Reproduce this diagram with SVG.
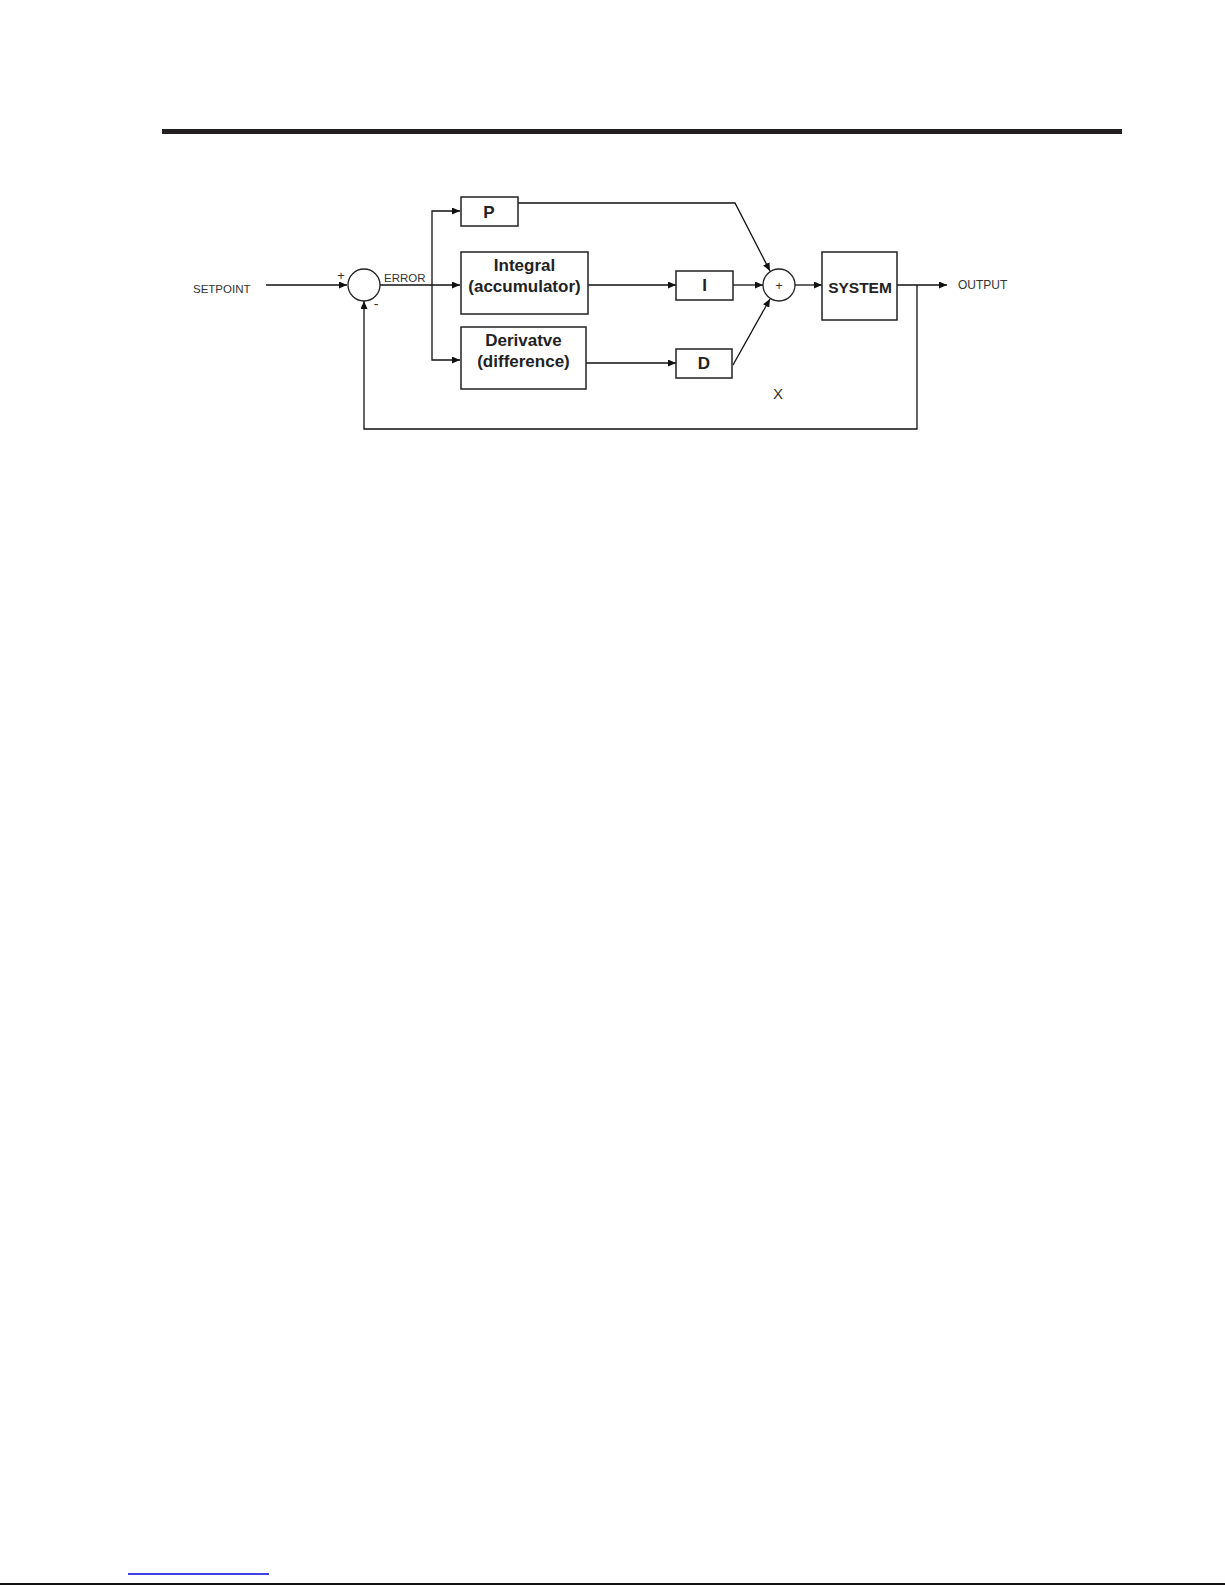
<svg xmlns="http://www.w3.org/2000/svg" width="1225" height="1585" viewBox="0 0 1225 1585">
<style>
.box{fill:#fff;stroke:#222;stroke-width:1.5}
.ln{fill:none;stroke:#111;stroke-width:1.3}
.lbl{font-family:"Liberation Sans",Arial,sans-serif;font-size:11.5px;fill:#333}
.bl{font-family:"Liberation Sans",Arial,sans-serif;font-size:17px;font-weight:bold;fill:#222;text-anchor:middle}
</style>
<defs>
<marker id="ah" markerUnits="userSpaceOnUse" markerWidth="9" markerHeight="7" refX="8" refY="3.5" orient="auto">
<path d="M0,0 L8,3.5 L0,7 Z" fill="#111"/>
</marker>
</defs>
<rect width="1225" height="1585" fill="#fff"/>
<rect x="162" y="129" width="960" height="5" fill="#231f20"/>
<line x1="128" y1="1574" x2="269" y2="1574" stroke="#0000e0" stroke-width="1.5"/>
<line x1="0" y1="1584" x2="1225" y2="1584" stroke="#111" stroke-width="2"/>

<g id="connectors">
<path class="ln" d="M266,285 H347" marker-end="url(#ah)"/>
<path class="ln" d="M380,285 H460" marker-end="url(#ah)"/>
<path class="ln" d="M432,285 V211 H460" marker-end="url(#ah)"/>
<path class="ln" d="M432,285 V360 H460" marker-end="url(#ah)"/>
<path class="ln" d="M518,203 H735 L770,271" marker-end="url(#ah)"/>
<path class="ln" d="M588,285 H676" marker-end="url(#ah)"/>
<path class="ln" d="M733,285 H763" marker-end="url(#ah)"/>
<path class="ln" d="M586,363 H676" marker-end="url(#ah)"/>
<path class="ln" d="M733,365 L770,299" marker-end="url(#ah)"/>
<path class="ln" d="M795,285 H822" marker-end="url(#ah)"/>
<path class="ln" d="M897,285 H947" marker-end="url(#ah)"/>
<path class="ln" d="M917,285 V429 H364 V301" marker-end="url(#ah)"/>
</g>

<g id="setpoint"><text class="lbl" x="193" y="293">SETPOINT</text></g>
<g id="error-sum">
<circle cx="364" cy="285" r="16" fill="#fff" stroke="#222" stroke-width="1.3"/>
<text class="lbl" x="341" y="280" text-anchor="middle" style="font-size:13px">+</text>
<text class="lbl" x="376" y="309" text-anchor="middle" style="font-size:14px">-</text>
</g>
<g id="error-label"><text class="lbl" x="384" y="282">ERROR</text></g>

<g id="p-box"><rect class="box" x="461" y="197" width="57" height="29"/><text class="bl" x="489" y="217.5">P</text></g>
<g id="integral-box"><rect class="box" x="461" y="252" width="127" height="62"/>
<text class="bl" x="524.5" y="271">Integral</text><text class="bl" x="524.5" y="292">(accumulator)</text></g>
<g id="derivative-box"><rect class="box" x="461" y="327" width="125" height="62"/>
<text class="bl" x="523.5" y="346">Derivatve</text><text class="bl" x="523.5" y="367">(difference)</text></g>
<g id="i-box"><rect class="box" x="676" y="271" width="57" height="29"/><text class="bl" x="704.5" y="291">I</text></g>
<g id="d-box"><rect class="box" x="676" y="349" width="56" height="29"/><text class="bl" x="704" y="369">D</text></g>
<g id="sum"><circle cx="779" cy="285" r="16" fill="#fff" stroke="#222" stroke-width="1.3"/>
<text class="lbl" x="779" y="289.5" text-anchor="middle" style="font-size:13px">+</text></g>
<g id="system-box"><rect class="box" x="822" y="252" width="75" height="68"/><text class="bl" x="860" y="292.5" style="font-size:15.5px">SYSTEM</text></g>
<g id="output"><text class="lbl" x="958" y="289" style="font-size:12px">OUTPUT</text></g>
<g id="x-label"><text class="lbl" x="778" y="399" text-anchor="middle" style="font-size:15px">X</text></g>
</svg>
